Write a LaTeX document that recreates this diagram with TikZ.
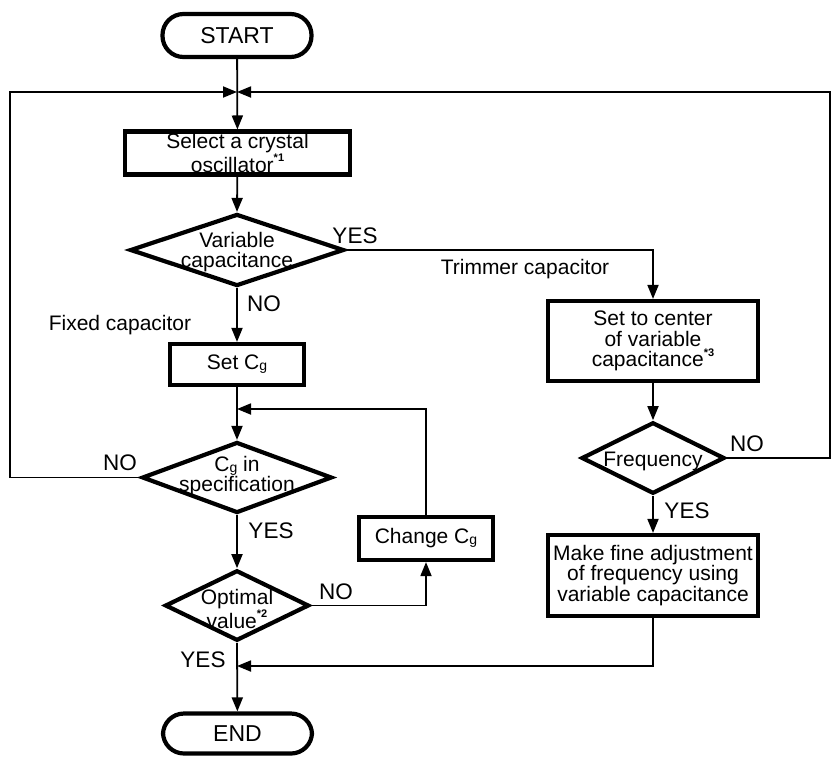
\documentclass[tikz,border=0pt]{standalone}
\usepackage{fontspec}
\setmainfont{Liberation Sans}
\usetikzlibrary{arrows.meta,shapes.geometric}
\newcommand\subg{\raisebox{-0.05em}{\fontsize{14}{14}\selectfont g}}
\newcommand\fnote[1]{\raisebox{0.5em}{\fontsize{11}{11}\selectfont\bfseries *#1}}
\begin{document}
\begin{tikzpicture}[x=1pt,y=-1pt,
  term/.style={draw, line width=4.2pt, rounded corners=21pt, minimum width=149pt, minimum height=43pt, inner sep=0pt, font=\fontsize{23}{23}\selectfont},
  box/.style={draw, line width=4.2pt, inner sep=2pt, align=center, font=\fontsize{21}{20.5}\selectfont},
  dia/.style={draw, diamond, line width=4.2pt, inner sep=0pt},
  dtext/.style={align=center, inner sep=0pt, font=\fontsize{21}{20}\selectfont},
  lbl/.style={anchor=base, inner sep=0pt, font=\fontsize{22.5}{22.5}\selectfont},
  note/.style={anchor=base, inner sep=0pt, font=\fontsize{21}{21}\selectfont},
  conn/.style={line width=1.8pt},
  arr/.style={conn, -{Triangle[length=14pt,width=11pt]}}]
\useasboundingbox (0,0) rectangle (832,756);

% nodes
\node[term] (start) at (237,35.5) {START};
\node[box, minimum width=225pt, minimum height=42pt] (sel) at (237.5,153) {Select a crystal\\oscillator\fnote{1}};
\node[dia, minimum width=214pt, minimum height=72pt] (d1) at (237,250) {};
\node[dtext] (d1t) at (237,252) {Variable\\capacitance};
\node[box, minimum width=134pt, minimum height=41pt] (setcg) at (237,364.5) {Set C\subg};
\node[dia, minimum width=190pt, minimum height=71pt] (d2) at (237,477.5) {};
\node[dtext] (d2t) at (237,476) {C\subg{} in\\specification};
\node[dia, minimum width=144pt, minimum height=70.5pt] (d3) at (237,605.5) {};
\node[dtext] (d3t) at (237,609) {Optimal\\value\fnote{2}};
\node[box, minimum width=134pt, minimum height=43pt] (chg) at (426,538.5) {Change C\subg};
\node[term, minimum height=40pt] (end) at (237.5,733.5) {END};
\node[box, minimum width=210pt, minimum height=80pt] (setc) at (653,341) {Set to center\\of variable\\capacitance\fnote{3}};
\node[dia, minimum width=143pt, minimum height=71.5pt] (d4) at (653,458) {};
\node[dtext] (d4t) at (653,461) {Frequency};
\node[box, minimum width=210pt, minimum height=81pt] (make) at (653,575.5) {Make fine adjustment\\of frequency using\\variable capacitance};

% junction coordinates
\coordinate (j1) at (237,92);
\coordinate (j2) at (237,409);
\coordinate (j3) at (237,666);
\coordinate (lc) at (10,92);
\coordinate (rc) at (830,92);

% labels
\node[lbl] (yes1) at (355,243) {YES};
\node[note] (trim) at (525,274) {Trimmer capacitor};
\node[lbl] (no1) at (264,311) {NO};
\node[note] (fixed) at (120,330) {Fixed capacitor};
\node[lbl] (no2) at (120,470) {NO};
\node[lbl] (yes2) at (271,538) {YES};
\node[lbl] (no3) at (336,599) {NO};
\node[lbl] (yes3) at (203,667) {YES};
\node[lbl] (no4) at (747,451) {NO};
\node[lbl] (yes4) at (687,518) {YES};

% connectors
\draw[arr] (start) -- (sel);
\draw[arr] (sel) -- (d1.north);
\draw[arr] (d1.east) -| (setc.north);
\draw[arr] (d1.south) -- (setcg);
\draw[arr] (setcg) -- (d2.north);
\draw[arr] (d2.west) -| (lc) -- (j1);
\draw[arr] (d2.south) -- (d3.north);
\draw[arr] (d3.east) -| (chg.south);
\draw[arr] (chg.north) |- (j2);
\draw[arr] (d3.south) -- (end);
\draw[arr] (setc) -- (d4.north);
\draw[arr] (d4.south) -- (make);
\draw[arr] (d4.east) -| (rc) -- (j1);
\draw[arr] (make.south) |- (j3);
\end{tikzpicture}
\end{document}
